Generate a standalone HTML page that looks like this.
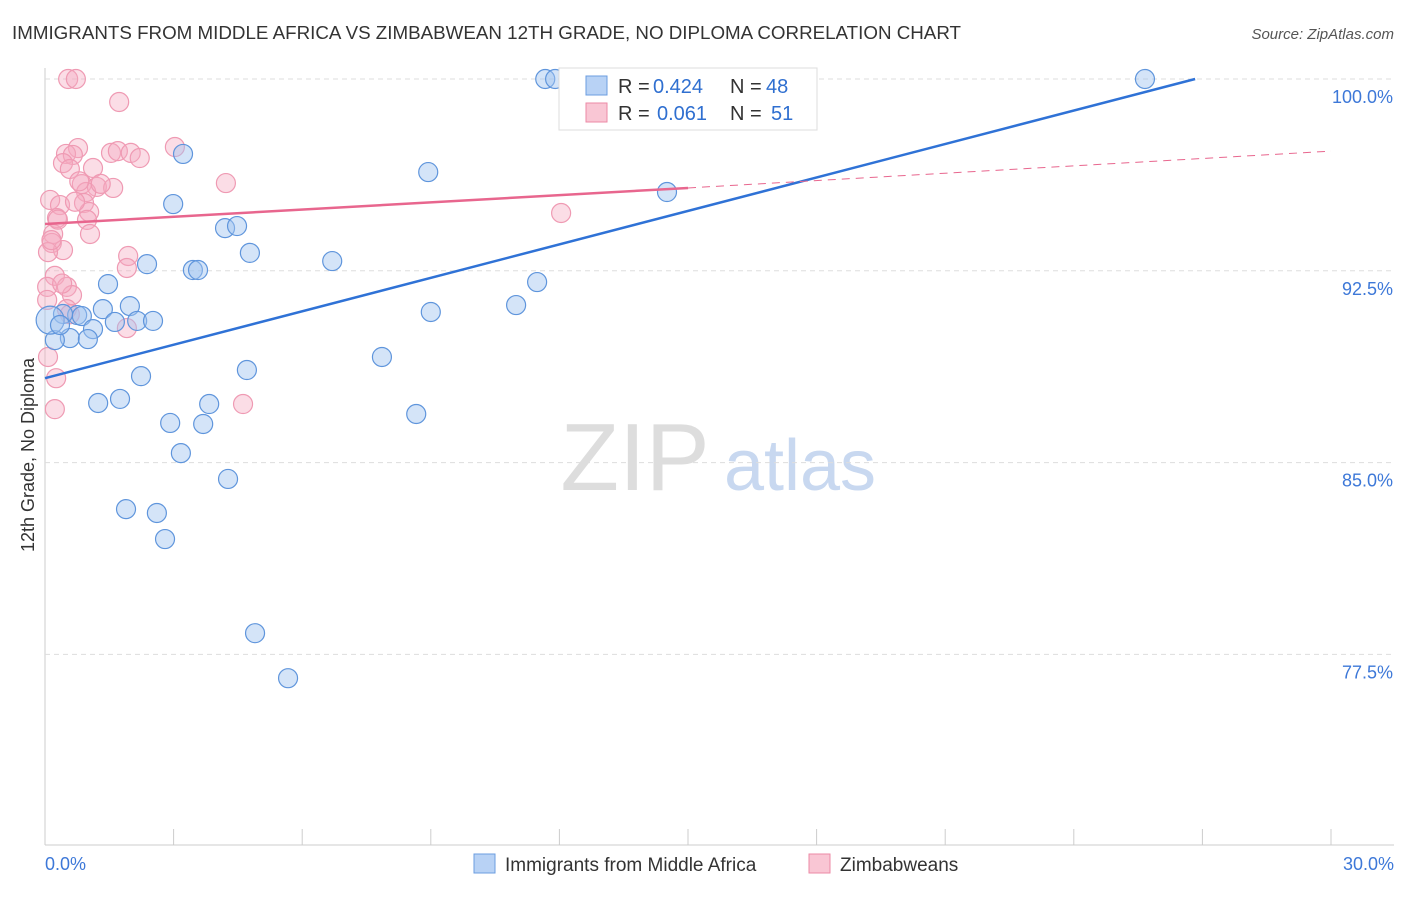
<!DOCTYPE html>
<html><head><meta charset="utf-8"><style>
body{margin:0;background:#fff;font-family:"Liberation Sans",sans-serif;}
svg text{font-family:"Liberation Sans",sans-serif;}
</style></head><body>
<svg id="chart" width="1406" height="892" xmlns="http://www.w3.org/2000/svg">
<text x="12" y="39" font-size="18" fill="#333" textLength="949" lengthAdjust="spacingAndGlyphs">IMMIGRANTS FROM MIDDLE AFRICA VS ZIMBABWEAN 12TH GRADE, NO DIPLOMA CORRELATION CHART</text>
<text x="1394" y="39" font-size="15" fill="#555" text-anchor="end" font-style="italic">Source: ZipAtlas.com</text>
<text x="34" y="455" font-size="18" fill="#333" text-anchor="middle" transform="rotate(-90 34 455)">12th Grade, No Diploma</text>
<g><text x="635" y="490" font-size="96" fill="#ddd" font-family="Liberation Serif" text-anchor="middle">ZIP</text><text x="800" y="490" font-size="72" fill="#c8d8f0" text-anchor="middle">atlas</text></g>
<g id="grid"></g><g id="marks"></g>
<g>
<rect x="559" y="68" width="258" height="62" fill="#fff" stroke="#ddd"/>
<rect x="586" y="76" width="21" height="19" fill="#b8d2f5" stroke="#6b9de0"/>
<rect x="586" y="103" width="21" height="19" fill="#f9c6d4" stroke="#ec8aa6"/>
<text x="618" y="93" font-size="20" fill="#333">R =</text>
<text x="653" y="93" font-size="20" fill="#2f6fd0">0.424</text>
<text x="730" y="93" font-size="20" fill="#333">N =</text>
<text x="766" y="93" font-size="20" fill="#2f6fd0">48</text>
<text x="618" y="120" font-size="20" fill="#333">R =</text>
<text x="657" y="120" font-size="20" fill="#2f6fd0">0.061</text>
<text x="730" y="120" font-size="20" fill="#333">N =</text>
<text x="771" y="120" font-size="20" fill="#2f6fd0">51</text>
</g>
<g>
<rect x="474" y="854" width="21" height="19" fill="#b8d2f5" stroke="#6b9de0"/>
<text x="505" y="871" font-size="19" fill="#333">Immigrants from Middle Africa</text>
<rect x="809" y="854" width="21" height="19" fill="#f9c6d4" stroke="#ec8aa6"/>
<text x="840" y="871" font-size="19" fill="#333">Zimbabweans</text>
</g>
</svg>
<script>
const yTicks=[100,92.5,85,77.5];
const yTickLabels=["100.0%","92.5%","85.0%","77.5%"];
const xTickLabels=["0.0%","30.0%"];
const blueX=[11.67,11.9,25.66,8.94,3.22,14.51,2.99,4.2,4.48,4.78,2.38,3.45,3.57,6.7,11.48,1.47,10.99,9.0,1.35,1.98,0.75,0.86,0.42,1.63,2.15,2.52,1.12,0.58,1.0,0.23,0.12,7.86,2.24,4.71,1.24,1.75,3.83,2.92,3.69,8.66,3.17,4.27,1.89,2.61,2.8,4.9,5.67,0.35];
const blueY=[100,100,100,96.36,97.07,95.58,95.11,94.17,94.25,93.2,92.76,92.53,92.53,92.88,92.06,91.98,91.16,90.89,91.0,91.12,90.77,90.73,90.81,90.5,90.54,90.54,90.22,89.87,89.83,89.79,90.57,89.13,88.38,88.62,87.33,87.49,87.29,86.55,86.51,86.9,85.37,84.36,83.18,83.03,82.01,78.33,76.57,90.38];
const pinkX=[0.54,0.72,1.73,3.03,0.77,1.54,1.7,2.0,2.21,0.49,0.65,0.42,1.12,0.58,4.22,0.86,1.21,1.59,0.96,0.12,0.35,0.91,12.04,1.03,0.28,0.98,1.05,0.19,0.16,0.42,0.07,1.94,1.91,0.23,0.05,0.51,0.63,0.51,1.91,0.07,0.26,0.23,4.62,0.58,0.05,0.7,0.3,0.15,1.3,0.8,0.4];
const pinkY=[100,100,99.1,97.34,97.3,97.11,97.18,97.11,96.91,97.07,97.03,96.71,96.52,96.48,95.93,95.89,95.78,95.74,95.58,95.27,95.07,95.15,94.76,94.8,94.56,94.49,93.94,93.94,93.59,93.31,93.23,93.08,92.61,92.3,91.87,91.87,91.55,91.0,90.26,89.13,88.3,87.09,87.29,90.8,91.36,95.2,94.5,93.7,95.9,96.0,92.0];
const blueLine=[88.3,100];
const blueLineX=[0,26.83];
const pinkLine=[94.33,95.74,97.18];
const pinkLineX=[0,15,30];
const X=v=>45+v/30*1286, Y=v=>79+(100-v)*25.573;
const NS="http://www.w3.org/2000/svg";
const grid=document.getElementById('grid'), marks=document.getElementById('marks');
function mk(tag,attrs,parent){const e=document.createElementNS(NS,tag);for(const k in attrs)e.setAttribute(k,attrs[k]);parent.appendChild(e);return e;}
let ax=mk('line',{x1:45,y1:68,x2:45,y2:845,stroke:'#ccc'},grid);


let bx=mk('line',{x1:45,y1:845,x2:1394,y2:845,stroke:'#ccc'},grid);


for(let i=0;i<=10;i++){let t=mk('line',{x1:X(i*3),y1:829,x2:X(i*3),y2:845,stroke:'#ccc'},grid);

}
yTicks.forEach((v,i)=>{let g=mk('line',{x1:45,y1:Y(v),x2:1394,y2:Y(v),stroke:'#ddd','stroke-dasharray':'5,4'},grid);


let t=mk('text',{x:1393,y:Y(v)+24,'font-size':18,fill:'#3d78d8','text-anchor':'end'},grid);t.textContent=yTickLabels[i];

});
[[0,45,'start'],[30,1394,'end']].forEach((a,i)=>{let t=mk('text',{x:a[1],y:870,'font-size':18,fill:'#3d78d8','text-anchor':a[2]},grid);t.textContent=xTickLabels[i];

});
pinkX.forEach((x,i)=>{let c=mk('circle',{cx:X(x),cy:Y(pinkY[i]),r:9.5,fill:'rgba(246,170,192,0.4)',stroke:'#ef9ab3','stroke-width':1.2},marks);

});
blueX.forEach((x,i)=>{let c=mk('circle',{cx:X(x),cy:Y(blueY[i]),r:i==30?14:9.5,fill:'rgba(160,196,240,0.45)',stroke:'#5f95dc','stroke-width':1.2},marks);

});
let bl=mk('line',{x1:X(blueLineX[0]),y1:Y(blueLine[0]),x2:X(blueLineX[1]),y2:Y(blueLine[1]),stroke:'#2f72d6','stroke-width':2.5},marks);


let pl=mk('line',{x1:X(pinkLineX[0]),y1:Y(pinkLine[0]),x2:X(pinkLineX[1]),y2:Y(pinkLine[1]),stroke:'#e8668e','stroke-width':2.5},marks);


let pd=mk('line',{x1:X(pinkLineX[1]),y1:Y(pinkLine[1]),x2:X(pinkLineX[2]),y2:Y(pinkLine[2]),stroke:'#e8668e','stroke-width':1,'stroke-dasharray':'8,6'},marks);


</script>
</body></html>
